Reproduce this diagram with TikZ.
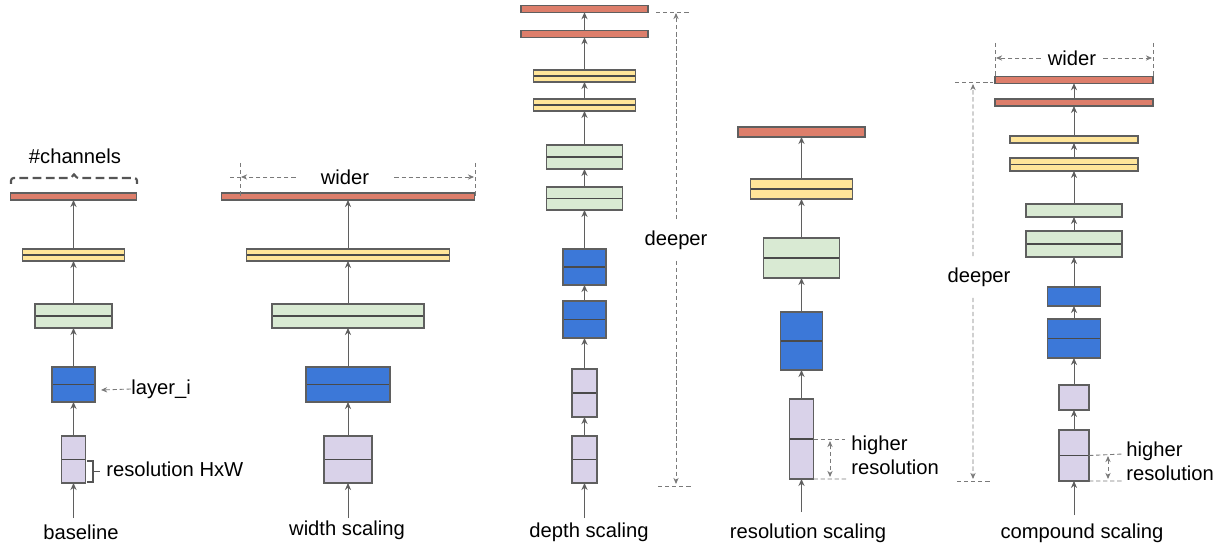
\documentclass[tikz,border=0pt]{standalone}
\usepackage{fontspec}
\setmainfont{Liberation Sans}
\usetikzlibrary{arrows.meta}

\tikzset{
    blk/.style={draw=edgegray, line width=0.6pt, inner sep=0pt, outer sep=0pt},
    split/.style={path picture={\draw[splitgray, line width=0.8pt] (path picture bounding box.west) -- (path picture bounding box.east);}},
    conn/.style={draw=edgegray, line width=0.55pt, -{Stealth[length=4pt,width=3.5pt]}},
    dim/.style={draw=dimgray, line width=0.5pt, dash pattern=on 2.5pt off 1.5pt},
    dimarr/.style={dim, -{Stealth[length=3.5pt,width=3pt]}},
    dimboth/.style={dim, {Stealth[length=3.5pt,width=3pt]}-{Stealth[length=3.5pt,width=3pt]}},
    lbl/.style={font=\fontsize{11.5}{13.8}\selectfont, inner sep=0pt, text=black},
}

\begin{document}
\begin{tikzpicture}[x=0.02cm, y=-0.02cm]

    % Colors for the layers
    \definecolor{redc}{HTML}{DD7E6B}
    \definecolor{yellowc}{HTML}{FFE599}
    \definecolor{greenc}{HTML}{D9EAD3}
    \definecolor{bluec}{HTML}{3C78D8}
    \definecolor{purplec}{HTML}{D9D2E9}
    \definecolor{edgegray}{HTML}{5F5F5F}
    \definecolor{splitgray}{HTML}{4A4A4A}
    \definecolor{dimgray}{HTML}{7A7A7A}
    \definecolor{bracegray}{HTML}{555555}

    \useasboundingbox (0,0) rectangle (1225,547);

    % Baseline
    \node[blk, split, fill=purplec, minimum width=0.48cm, minimum height=0.94cm] (b1) at (73.5,459.5) {};
    \node[blk, split, fill=bluec, minimum width=0.86cm, minimum height=0.70cm] (b2) at (73.5,384.5) {};
    \node[blk, split, fill=greenc, minimum width=1.54cm, minimum height=0.48cm] (b3) at (73.5,316) {};
    \node[blk, split, fill=yellowc, minimum width=2.04cm, minimum height=0.24cm] (b4) at (73.5,255) {};
    \node[blk, fill=redc, minimum width=2.52cm, minimum height=0.14cm] (b5) at (73.5,196.5) {};
    \coordinate (bin) at (73.5,518);
    \draw[conn] (bin) -- (b1);
    \draw[conn] (b1) -- (b2);
    \draw[conn] (b2) -- (b3);
    \draw[conn] (b3) -- (b4);
    \draw[conn] (b4) -- (b5);
    \node[lbl] (bname) at (81,532) {baseline};
    \node[lbl] (chan) at (75,156) {\#channels};
    \draw[bracegray, line width=1.2pt, dash pattern=on 5pt off 2.5pt, rounded corners=1.5pt]
        (11,184) -- (11,178) -- (72,178) -- (74,173) -- (76,178) -- (137,178) -- (137,184);
    \node[lbl, anchor=west] (lay) at (131,389) {layer\_i};
    \coordinate (layend) at (101,390);
    \draw[dimarr] (lay.west) -- (layend);
    \draw[bracegray, line width=1pt] (87,461) -- (93,461) -- (93,482) -- (87,482);
    \draw[bracegray, line width=1pt] (93,471.5) -- (100,471.5);
    \node[lbl, anchor=west] (res) at (106,469) {resolution HxW};

    % Width scaling
    \node[blk, split, fill=purplec, minimum width=0.96cm, minimum height=0.94cm] (w1) at (348,459.5) {};
    \node[blk, split, fill=bluec, minimum width=1.68cm, minimum height=0.70cm] (w2) at (348,384.5) {};
    \node[blk, split, fill=greenc, minimum width=3.04cm, minimum height=0.48cm] (w3) at (348,316) {};
    \node[blk, split, fill=yellowc, minimum width=4.06cm, minimum height=0.24cm] (w4) at (348,255) {};
    \node[blk, fill=redc, minimum width=5.06cm, minimum height=0.14cm] (w5) at (348,196.5) {};
    \coordinate (win) at (348,518);
    \draw[conn] (win) -- (w1);
    \draw[conn] (w1) -- (w2);
    \draw[conn] (w2) -- (w3);
    \draw[conn] (w3) -- (w4);
    \draw[conn] (w4) -- (w5);
    \node[lbl] (wname) at (347,530) {width scaling};
    \node[lbl, inner xsep=0.5cm] (wwide) at (345,177) {wider};
    \coordinate (wl) at (241,177);
    \coordinate (wr) at (474,177);
    \draw[dimarr] (wwide.west) -- (wl);
    \draw[dimarr] (wwide.east) -- (wr);
    \draw[dim] (wl) -- (228,177);
    \draw[dim] (240,163) -- (240,197);
    \draw[dim] (475,163) -- (475,197);

    % Depth scaling
    \node[blk, split, fill=purplec, minimum width=0.50cm, minimum height=0.94cm] (d1) at (584.5,459.5) {};
    \node[blk, split, fill=purplec, minimum width=0.50cm, minimum height=0.96cm] (d2) at (584.5,393) {};
    \node[blk, split, fill=bluec, minimum width=0.86cm, minimum height=0.74cm] (d3) at (584.5,319.5) {};
    \node[blk, split, fill=bluec, minimum width=0.86cm, minimum height=0.72cm] (d4) at (584.5,267) {};
    \node[blk, split, fill=greenc, minimum width=1.52cm, minimum height=0.46cm] (d5) at (584.5,198.5) {};
    \node[blk, split, fill=greenc, minimum width=1.52cm, minimum height=0.48cm] (d6) at (584.5,157) {};
    \node[blk, split, fill=yellowc, minimum width=2.04cm, minimum height=0.24cm] (d7) at (584.5,105) {};
    \node[blk, split, fill=yellowc, minimum width=2.04cm, minimum height=0.24cm] (d8) at (584.5,76) {};
    \node[blk, fill=redc, minimum width=2.54cm, minimum height=0.13cm] (d9) at (584.5,34) {};
    \node[blk, fill=redc, minimum width=2.54cm, minimum height=0.13cm] (d10) at (584.5,9) {};
    \coordinate (din) at (584.5,518);
    \draw[conn] (din) -- (d1);
    \draw[conn] (d1) -- (d2);
    \draw[conn] (d2) -- (d3);
    \draw[conn] (d3) -- (d4);
    \draw[conn] (d4) -- (d5);
    \draw[conn] (d5) -- (d6);
    \draw[conn] (d6) -- (d7);
    \draw[conn] (d7) -- (d8);
    \draw[conn] (d8) -- (d9);
    \draw[conn] (d9) -- (d10);
    \node[lbl] (dname) at (589,532) {depth scaling};
    \node[lbl, inner ysep=0.22cm] (ddeep) at (676,240) {deeper};
    \coordinate (dtop) at (676,13);
    \coordinate (dbot) at (676,484);
    \draw[dimarr] (ddeep.north) -- (dtop);
    \draw[dimarr] (ddeep.south) -- (dbot);
    \draw[dim] (656,12) -- (689,12);
    \draw[dim] (658,486) -- (691,486);

    % Resolution scaling
    \node[blk, split, fill=purplec, minimum width=0.48cm, minimum height=1.60cm] (r1) at (801.5,439) {};
    \node[blk, split, fill=bluec, minimum width=0.84cm, minimum height=1.16cm] (r2) at (801.5,341) {};
    \node[blk, split, fill=greenc, minimum width=1.52cm, minimum height=0.80cm] (r3) at (801.5,258) {};
    \node[blk, split, fill=yellowc, minimum width=2.04cm, minimum height=0.40cm] (r4) at (801.5,189) {};
    \node[blk, fill=redc, minimum width=2.54cm, minimum height=0.20cm] (r5) at (801.5,132) {};
    \coordinate (rin) at (801.5,512);
    \draw[conn] (rin) -- (r1);
    \draw[conn] (r1) -- (r2);
    \draw[conn] (r2) -- (r3);
    \draw[conn] (r3) -- (r4);
    \draw[conn] (r4) -- (r5);
    \node[lbl] (rname) at (808,533) {resolution scaling};
    \node[lbl, anchor=west, align=left] (rhigh) at (851,455) {higher\\resolution};
    \coordinate (rh1) at (845,439);
    \coordinate (rh2) at (847,479);
    \draw[dim] (r1.east) -- (rh1);
    \draw[dim] (r1.south east) -- (rh2);
    \draw[dimboth] (830,441) -- (830,477);

    % Compound scaling
    \node[blk, split, fill=purplec, minimum width=0.60cm, minimum height=1.02cm] (c1) at (1074,455.5) {};
    \node[blk, fill=purplec, minimum width=0.60cm, minimum height=0.50cm] (c2) at (1074,397.5) {};
    \node[blk, split, fill=bluec, minimum width=1.06cm, minimum height=0.78cm] (c3) at (1074,338.5) {};
    \node[blk, fill=bluec, minimum width=1.06cm, minimum height=0.38cm] (c4) at (1074,296.5) {};
    \node[blk, split, fill=greenc, minimum width=1.92cm, minimum height=0.52cm] (c5) at (1074,244) {};
    \node[blk, fill=greenc, minimum width=1.92cm, minimum height=0.26cm] (c6) at (1074,210.5) {};
    \node[blk, split, fill=yellowc, minimum width=2.56cm, minimum height=0.26cm] (c7) at (1074,164.5) {};
    \node[blk, fill=yellowc, minimum width=2.56cm, minimum height=0.14cm] (c8) at (1074,139.5) {};
    \node[blk, fill=redc, minimum width=3.16cm, minimum height=0.14cm] (c9) at (1074,102.5) {};
    \node[blk, fill=redc, minimum width=3.16cm, minimum height=0.13cm] (c10) at (1074,80) {};
    \coordinate (cin) at (1074,515);
    \draw[conn] (cin) -- (c1);
    \draw[conn] (c1) -- (c2);
    \draw[conn] (c2) -- (c3);
    \draw[conn] (c3) -- (c4);
    \draw[conn] (c4) -- (c5);
    \draw[conn] (c5) -- (c6);
    \draw[conn] (c6) -- (c7);
    \draw[conn] (c7) -- (c8);
    \draw[conn] (c8) -- (c9);
    \draw[conn] (c9) -- (c10);
    \node[lbl] (cname) at (1082,533) {compound scaling};
    \node[lbl, inner xsep=0.14cm] (cwide) at (1072,58) {wider};
    \coordinate (cwl) at (996,58);
    \coordinate (cwr) at (1152,58);
    \draw[dimarr] (cwide.west) -- (cwl);
    \draw[dimarr] (cwide.east) -- (cwr);
    \draw[dim] (995,43) -- (995,76);
    \draw[dim] (1153,43) -- (1153,76);
    \node[lbl, inner ysep=0.22cm] (cdeep) at (979,277) {deeper};
    \coordinate (ctop) at (973,84);
    \coordinate (cbot) at (973,479);
    \draw[dimarr] ([xshift=-0.12cm]cdeep.north) -- (ctop);
    \draw[dimarr] ([xshift=-0.12cm]cdeep.south) -- (cbot);
    \draw[dim] (955,82) -- (993,82);
    \draw[dim] (957,481) -- (991,481);
    \node[lbl, anchor=west, align=left] (chigh) at (1126,461) {higher\\resolution};
    \coordinate (ch1) at (1123,454);
    \coordinate (ch2) at (1123,481);
    \draw[dim] (c1.east) -- (ch1);
    \draw[dim] (c1.south east) -- (ch2);
    \draw[dimboth] (1108,456) -- (1108,479);

\end{tikzpicture}
\end{document}
